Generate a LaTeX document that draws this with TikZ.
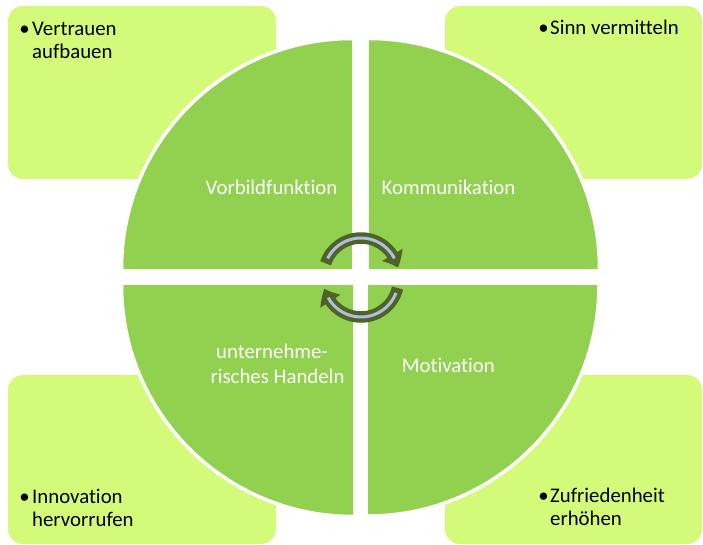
\documentclass[tikz,border=0pt]{standalone}
\usepackage{fontspec}
\setmainfont[Ligatures=NoCommon]{Carlito}
\usetikzlibrary{arrows.meta,bending}
\definecolor{boxgreen}{RGB}{211,251,121}
\definecolor{quadgreen}{RGB}{146,208,80}
\definecolor{arrowdark}{RGB}{79,98,40}
\definecolor{arrowlight}{RGB}{172,192,222}
\begin{document}
\begin{tikzpicture}[x=1pt,y=-1pt,
  boxfill/.style={fill=boxgreen, rounded corners=15pt},
  quadfill/.style={fill=quadgreen},
  quadrim/.style={draw=white, line width=3.5pt},
  boxtxt/.style={anchor=base west, inner sep=0pt, text=black, font=\fontsize{20.8}{22.7}\selectfont},
  bul/.style={anchor=base, inner sep=0pt, text=black, font=\fontsize{20.8}{22.7}\selectfont},
  qtxt/.style={anchor=base, inner sep=0pt, text=white, font=\fontsize{20.8}{22.7}\selectfont},
  cycdark/.style={draw=arrowdark, line width=11.5pt, -{Triangle[length=14pt,width=23pt,bend]}},
  cyclight/.style={draw=arrowlight, line width=3pt}
]
\useasboundingbox (0,0) rectangle (703,545);
% corner boxes
\fill[boxfill] (8,6) rectangle (276,179);
\fill[boxfill] (445,6) rectangle (702,179);
\fill[boxfill] (8,375) rectangle (276,544);
\fill[boxfill] (445,375) rectangle (702,544);
% quadrants
\coordinate (qtl) at (352,269);
\coordinate (qtr) at (369,269);
\coordinate (qbl) at (353,285);
\coordinate (qbr) at (368,285);
\fill[quadfill] (qtl) -- ++(-230.5,0) arc[start angle=180,end angle=270,radius=230.5] -- cycle;
\fill[quadfill] (qtr) -- ++(0,-230.5) arc[start angle=270,end angle=360,radius=230.5] -- cycle;
\fill[quadfill] (qbl) -- ++(0,231.5) arc[start angle=90,end angle=180,radius=231.5] -- cycle;
\fill[quadfill] (qbr) -- ++(231,0) arc[start angle=0,end angle=90,radius=231] -- cycle;
\draw[quadrim] ([shift={(180:230.5)}]qtl) arc[start angle=180,end angle=270,radius=230.5];
\draw[quadrim] ([shift={(270:230.5)}]qtr) arc[start angle=270,end angle=360,radius=230.5];
\draw[quadrim] ([shift={(90:231.5)}]qbl) arc[start angle=90,end angle=180,radius=231.5];
\draw[quadrim] ([shift={(0:231)}]qbr) arc[start angle=0,end angle=90,radius=231];
% box texts
\node[bul] (b1) at (24.5,36) {•};
\node[boxtxt] (t1a) at (32,36) {Vertrauen};
\node[boxtxt] (t1b) at (32,58.7) {aufbauen};
\node[bul] (b2) at (543.5,35) {•};
\node[boxtxt] (t2a) at (550,35) {Sinn vermitteln};
\node[bul] (b3) at (24.5,503) {•};
\node[boxtxt] (t3a) at (32,503) {Innovation};
\node[boxtxt] (t3b) at (32,526) {hervorrufen};
\node[bul] (b4) at (543.5,502) {•};
\node[boxtxt] (t4a) at (550,502) {Zufriedenheit};
\node[boxtxt] (t4b) at (550,525.7) {erhöhen};
% quadrant labels
\node[qtxt] (l1) at (271.5,195) {Vorbildfunktion};
\node[qtxt] (l2) at (448.5,195) {Kommunikation};
\node[qtxt] (l3a) at (272,358.3) {unternehme-};
\node[qtxt] (l3b) at (277.5,383.3) {risches Handeln};
\node[qtxt] (l4) at (448.3,372) {Motivation};
% cycle arrows
\coordinate (ca) at (361,275.5);
\coordinate (cb) at (361,279.5);
\draw[cycdark] ([shift={(-161:37.5)}]ca) arc[start angle=-161,end angle=-12,radius=37.5];
\draw[cyclight] ([shift={(-153:37.5)}]ca) arc[start angle=-153,end angle=-27,radius=37.5];
\draw[cycdark] ([shift={(13:37.5)}]cb) arc[start angle=13,end angle=166,radius=37.5];
\draw[cyclight] ([shift={(21:37.5)}]cb) arc[start angle=21,end angle=151,radius=37.5];
\end{tikzpicture}
\end{document}
